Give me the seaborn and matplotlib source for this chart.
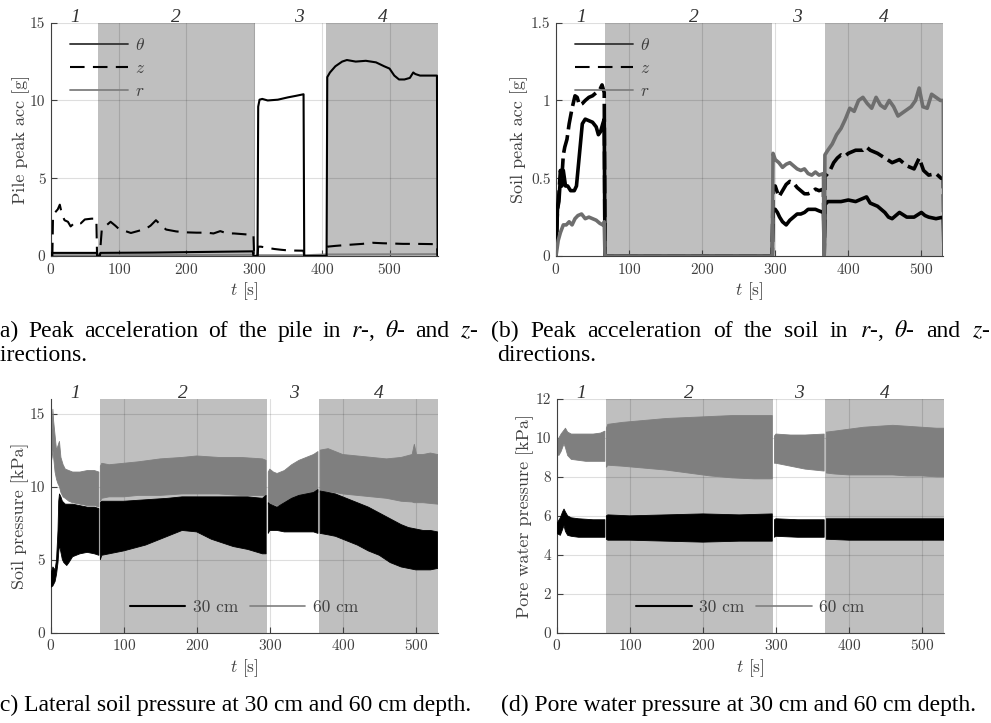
import numpy as np
import matplotlib
matplotlib.use('Agg')
import matplotlib.pyplot as plt
import seaborn as sns
from matplotlib.lines import Line2D
from matplotlib.ticker import FuncFormatter

nan = np.nan

# ---------------- (a) pile peak acceleration ----------------
ta_theta = [0, 1, 68, 69, 72, 73, 150, 298, 299, 305, 306, 308, 312, 320, 335, 350, 362, 373, 374,
            407, 408, 412, 420, 430, 437, 450, 465, 480, 492, 500, 507, 514, 522, 530, 535, 538, 545,
            560, 570, 571, 575]
va_theta = [0, 0.2, 0.2, 0, 0, 0.2, 0.22, 0.3, 0, 0, 9.6, 10.05, 10.1, 10.0, 10.05, 10.2, 10.3, 10.4, 0,
            0, 11.5, 11.8, 12.2, 12.5, 12.6, 12.5, 12.55, 12.45, 12.2, 12.05, 11.6, 11.35, 11.35, 11.45, 11.8, 11.7, 11.6,
            11.6, 11.6, 0, 0]
ta_z = [0, 2, 3, 6, 10, 13, 16, 20, 25, 29, 34, 38, 44, 50, 60, 67, 68, 72, 75, 80,
        88, 95, 100, 110, 118, 128, 140, 147, 155, 162, 170, 185, 200, 215, 230, 240, 250, 260, 270, 285,
        299, 300, 305, 306, 310, 320, 330, 340, 350, 360, 373, 374, 407, 408, 420, 440, 460, 475, 490, 505,
        520, 540, 570, 571, 575]
va_z = [0, 0, 2.6, 2.8, 3.0, 3.3, 2.7, 2.3, 2.2, 1.9, 2.1, 2.2, 2.1, 2.35, 2.4, 2.4, 0, 0, 1.7, 1.9,
        2.2, 1.95, 1.75, 1.6, 1.48, 1.6, 1.75, 1.95, 2.3, 2.0, 1.7, 1.58, 1.52, 1.5, 1.5, 1.45, 1.6, 1.45, 1.45, 1.4,
        1.35, 0, 0, 0.6, 0.6, 0.52, 0.45, 0.4, 0.36, 0.35, 0.34, 0, 0, 0.6, 0.65, 0.72, 0.78, 0.85, 0.82, 0.8,
        0.78, 0.78, 0.76, 0, 0]
ta_r = [0, 68, 69, 72, 300, 301, 305, 374, 407, 571, 575]
va_r = [0.05, 0.05, 0, 0.05, 0.08, 0, 0.05, 0.05, 0.1, 0.12, 0]

# ---------------- (b) soil peak acceleration ----------------
tb_z = [0, 2, 4, 6, 8, 10, 12, 15, 18, 22, 26, 29, 32, 36, 40, 45, 50, 55, 60, 63,
        66, 67, 296, 297, 300, 305, 310, 315, 320, 325, 330, 335, 340, 345, 350, 355, 360, 366, 367, 368,
        370, 375, 380, 385, 390, 395, 400, 410, 420, 425, 430, 440, 450, 460, 470, 480, 490, 497, 503, 510,
        520, 527, 530, 531]
vb_z = [0, 0.3, 0.4, 0.55, 0.5, 0.65, 0.7, 0.75, 0.85, 0.95, 1.03, 1.02, 0.97, 0.98, 1.0, 1.02, 1.03, 1.05, 1.07, 1.1,
        1.05, 0, 0, 0.45, 0.45, 0.38, 0.42, 0.46, 0.48, 0.47, 0.44, 0.42, 0.4, 0.4, 0.41, 0.43, 0.42, 0.43, 0, 0.52,
        0.52, 0.55, 0.6, 0.63, 0.65, 0.64, 0.66, 0.68, 0.68, 0.7, 0.68, 0.66, 0.63, 0.6, 0.62, 0.58, 0.56, 0.63, 0.55, 0.52,
        0.53, 0.5, 0.5, 0]
tb_theta = [0, 2, 4, 6, 8, 10, 13, 16, 20, 25, 28, 32, 36, 40, 45, 50, 55, 58, 61, 64,
            66, 67, 296, 297, 300, 303, 306, 310, 315, 320, 325, 330, 335, 340, 345, 350, 355, 360, 366, 367,
            368, 372, 380, 390, 400, 410, 420, 425, 430, 440, 450, 455, 460, 470, 480, 490, 500, 505, 510, 520,
            530, 531]
vb_theta = [0, 0.3, 0.35, 0.5, 0.45, 0.55, 0.45, 0.45, 0.42, 0.42, 0.45, 0.65, 0.85, 0.88, 0.87, 0.86, 0.83, 0.78, 0.8, 0.85,
            0.88, 0, 0, 0.3, 0.3, 0.28, 0.25, 0.22, 0.2, 0.23, 0.25, 0.27, 0.27, 0.28, 0.3, 0.3, 0.3, 0.29, 0.28, 0,
            0.33, 0.35, 0.35, 0.35, 0.36, 0.35, 0.37, 0.38, 0.34, 0.32, 0.28, 0.25, 0.24, 0.28, 0.25, 0.25, 0.28, 0.26, 0.25, 0.24,
            0.25, 0]
tb_r = [0, 3, 6, 10, 14, 18, 22, 26, 30, 35, 40, 45, 50, 55, 60, 64, 66, 67, 296, 297,
        300, 305, 310, 315, 320, 325, 330, 335, 340, 345, 350, 355, 360, 366, 367, 368, 372, 378, 384, 390,
        396, 402, 408, 414, 420, 426, 432, 438, 444, 450, 456, 462, 468, 474, 480, 486, 492, 497, 502, 508,
        514, 520, 526, 530, 531]
vb_r = [0, 0.1, 0.15, 0.2, 0.2, 0.22, 0.2, 0.24, 0.26, 0.27, 0.24, 0.25, 0.24, 0.23, 0.21, 0.2, 0.22, 0, 0, 0.66,
        0.62, 0.6, 0.57, 0.59, 0.6, 0.58, 0.56, 0.55, 0.56, 0.53, 0.52, 0.54, 0.52, 0.53, 0, 0.65, 0.68, 0.72, 0.78, 0.82,
        0.88, 0.95, 0.93, 1.0, 1.02, 0.98, 0.95, 1.02, 0.97, 0.95, 1.0, 0.96, 0.9, 0.92, 0.94, 0.96, 1.0, 1.08, 0.96, 0.95,
        1.04, 1.02, 1.0, 1.0, 0]

# ---------------- (c) lateral soil pressure (envelopes) ----------------
tc60 = [0, 2, 3, 4, 6, 8, 10, 12, 14, 17, 20, 25, 30, 40, 50, 60, 66, 67, 68, 70,
        80, 100, 120, 150, 180, 200, 230, 260, 290, 295, 296, 298, 300, 305, 310, 320, 330, 340, 350, 360,
        366, 367, 369, 380, 390, 400, 420, 440, 460, 480, 495, 498, 501, 510, 520, 530]
hi_c60 = [13.0, 14.0, 15.3, 14.5, 13.5, 12.5, 12.8, 13.1, 12.0, 11.5, 11.2, 11.1, 11.0, 11.0, 11.1, 11.1, 11.0, nan, 11.4, 11.6,
          11.5, 11.6, 11.7, 11.9, 12.0, 12.1, 12.0, 12.0, 11.9, 11.8, nan, 11.0, 11.2, 11.0, 10.9, 11.1, 11.5, 11.8, 12.0, 12.2,
          12.4, nan, 12.5, 12.6, 12.4, 12.2, 12.1, 12.0, 11.9, 12.0, 12.2, 12.9, 12.2, 12.2, 12.3, 12.2]
lo_c60 = [11.5, 12.0, 12.5, 12.0, 11.0, 10.5, 10.2, 10.0, 9.6, 9.3, 9.2, 9.0, 8.9, 8.8, 8.7, 8.7, 8.6, nan, 9.0, 9.2,
          9.3, 9.3, 9.4, 9.4, 9.5, 9.5, 9.5, 9.4, 9.4, 9.3, nan, 8.8, 8.8, 8.75, 8.7, 8.8, 8.9, 9.1, 9.3, 9.5,
          9.6, nan, 9.7, 9.65, 9.6, 9.5, 9.4, 9.3, 9.2, 9.0, 8.95, 8.9, 8.9, 8.9, 8.85, 8.8]
tc30 = [0, 3, 6, 8, 10, 11, 12, 14, 16, 18, 20, 22, 25, 30, 40, 50, 60, 66, 67, 68,
        70, 100, 130, 160, 180, 200, 220, 250, 270, 290, 295, 296, 298, 300, 310, 320, 330, 340, 350, 360,
        366, 367, 369, 380, 390, 400, 410, 420, 435, 450, 465, 480, 490, 500, 510, 520, 530]
hi_c30 = [4.0, 4.5, 4.3, 5.0, 7.0, 9.0, 9.5, 9.3, 9.0, 8.9, 8.8, 8.8, 8.8, 8.8, 8.7, 8.6, 8.6, 8.5, nan, 8.9,
          9.0, 9.0, 9.1, 9.2, 9.3, 9.3, 9.3, 9.3, 9.3, 9.2, 9.4, nan, 8.9, 8.8, 8.6, 8.9, 9.2, 9.4, 9.5, 9.6,
          9.8, nan, 9.7, 9.6, 9.5, 9.3, 9.1, 8.9, 8.6, 8.2, 7.8, 7.4, 7.2, 7.1, 7.0, 7.0, 6.9]
lo_c30 = [3.1, 3.2, 3.5, 4.0, 4.8, 5.5, 6.0, 5.5, 5.0, 4.8, 4.7, 4.6, 4.8, 5.2, 5.4, 5.5, 5.4, 5.3, nan, 5.0,
          5.3, 5.6, 6.0, 6.6, 7.0, 6.9, 6.4, 5.9, 5.7, 5.4, 5.4, nan, 6.8, 7.0, 7.0, 6.9, 6.9, 6.9, 6.9, 6.9,
          6.8, nan, 6.8, 6.7, 6.6, 6.4, 6.2, 6.0, 5.6, 5.3, 4.8, 4.5, 4.4, 4.3, 4.3, 4.3, 4.4]

# ---------------- (d) pore water pressure (envelopes) ----------------
td60 = [0, 3, 6, 8, 10, 12, 15, 20, 30, 40, 50, 60, 66, 67, 68, 70, 90, 120, 150, 180,
        210, 240, 270, 295, 296, 298, 300, 320, 340, 366, 367, 369, 380, 400, 420, 440, 460, 480, 500, 520, 530]
hi_d60 = [9.8, 10.0, 10.2, 10.3, 10.4, 10.5, 10.3, 10.2, 10.2, 10.2, 10.2, 10.25, 10.35, nan, 10.5, 10.7, 10.8, 10.9, 11.0, 11.05,
          11.1, 11.15, 11.15, 11.15, nan, 10.1, 10.2, 10.15, 10.15, 10.2, nan, 10.3, 10.35, 10.45, 10.55, 10.6, 10.65, 10.6, 10.55, 10.5, 10.5]
lo_d60 = [9.2, 9.1, 9.3, 9.5, 9.7, 9.5, 9.1, 8.9, 8.85, 8.8, 8.8, 8.8, 8.8, nan, 8.5, 8.6, 8.55, 8.45, 8.35, 8.2,
          8.05, 7.95, 7.9, 7.9, nan, 8.7, 8.7, 8.55, 8.4, 8.3, nan, 8.2, 8.15, 8.1, 8.1, 8.1, 8.1, 8.05, 8.05, 8.0, 8.0]
td30 = [0, 5, 8, 10, 12, 15, 20, 30, 50, 66, 67, 68, 70, 100, 150, 200, 250, 295, 296, 298,
        300, 330, 366, 367, 369, 400, 450, 500, 530]
hi_d30 = [5.6, 5.9, 6.2, 6.35, 6.2, 6.0, 5.9, 5.85, 5.8, 5.8, nan, 6.0, 6.05, 6.0, 6.05, 6.1, 6.05, 6.1, nan, 5.8,
          5.85, 5.8, 5.8, nan, 5.85, 5.85, 5.85, 5.85, 5.85]
lo_d30 = [5.1, 5.0, 5.3, 5.5, 5.2, 5.0, 4.95, 4.9, 4.9, 4.9, nan, 4.8, 4.75, 4.75, 4.7, 4.65, 4.7, 4.7, nan, 4.9,
          4.95, 4.9, 4.9, nan, 4.8, 4.75, 4.75, 4.75, 4.75]

# ---------------- test phases ----------------
phase_names = ['1', '2', '3', '4']
phases_a = [(0, 70), (70, 301), (301, 406), (406, 572)]
phases_bcd = [(0, 67.5), (67.5, 296), (296, 367.5), (367.5, 530)]
phase_lbl_a = [35, 185, 366, 490]
phase_lbl_b = [34, 188, 330, 448]
phase_lbl_c = [33, 181, 333, 449]
phase_lbl_d = [33, 181, 331, 449]

captions = {
    'a1': ['(a)', 'Peak', 'acceleration', 'of', 'the', 'pile', 'in', '$r$-,', r'$\theta$-', 'and', '$z$-'],
    'b1': ['(b)', 'Peak', 'acceleration', 'of', 'the', 'soil', 'in', '$r$-,', r'$\theta$-', 'and', '$z$-'],
    'a2': 'directions.',
    'b2': 'directions.',
    'c': '(c) Lateral soil pressure at 30 cm and 60 cm depth.',
    'd': '(d) Pore water pressure at 30 cm and 60 cm depth.',
}

# ---------------- style ----------------
sns.set_theme(style='white')
plt.rcParams.update({
    'font.family': ['cmr10', 'DejaVu Serif'],
    'mathtext.fontset': 'cm',
    'axes.formatter.use_mathtext': True,
    'axes.unicode_minus': False,
})

W, H = 991, 723
fig = plt.figure(figsize=(W / 100, H / 100), dpi=100)
fig.patch.set_facecolor('white')

SHADE = '#bfbfbf'
GRAY = '#7f7f7f'
AXC = '#404040'


def px_rect(x0, x1, ytop, ybot):
    return [x0 / W, 1 - ybot / H, (x1 - x0) / W, (ybot - ytop) / H]


ax_a = fig.add_axes(px_rect(51, 438.3, 22.7, 256))
ax_b = fig.add_axes(px_rect(556, 943.3, 22.7, 256))
ax_c = fig.add_axes(px_rect(50.7, 437.7, 399, 632.7))
ax_d = fig.add_axes(px_rect(556.7, 944, 399, 632.7))


def style_axis(ax, xmax, ymax, yticks, phases, lblpos, ylabel, ylab_x):
    ax.set_xlim(0, xmax)
    ax.set_ylim(0, ymax)
    ax.set_xticks([0, 100, 200, 300, 400, 500])
    ax.set_yticks(yticks)
    ax.yaxis.set_major_formatter(FuncFormatter(lambda v, p: '%g' % v))
    ax.set_facecolor('white')
    for i, (s, e) in enumerate(phases):
        if i % 2 == 1:
            ax.axvspan(s, e, color=SHADE, lw=0, zorder=0.1)
        ax.text(lblpos[i], 1.004, phase_names[i], transform=ax.get_xaxis_transform(),
                family=['Liberation Serif'], style='italic', fontsize=14, ha='center',
                va='baseline', color='#333333')
    ax.set_axisbelow(True)
    ax.grid(True, color='black', alpha=0.13, lw=0.8)
    for sp in ['top', 'right']:
        ax.spines[sp].set_visible(False)
    for sp in ['left', 'bottom']:
        ax.spines[sp].set_color(AXC)
        ax.spines[sp].set_linewidth(0.8)
    ax.tick_params(direction='in', length=4, width=0.8, color=AXC, labelcolor=AXC,
                   labelsize=11, left=True, bottom=True, pad=4)
    ax.set_xlabel('$t$ [s]', fontsize=12.5, color=AXC)
    ax.xaxis.set_label_coords(0.5, -0.105)
    ax.set_ylabel(ylabel, fontsize=13, color=AXC)
    ax.yaxis.set_label_coords(ylab_x, 0.5)


style_axis(ax_a, 572, 15, [0, 5, 10, 15], phases_a, phase_lbl_a, 'Pile peak acc [g]', -0.055)
style_axis(ax_b, 530, 1.5, [0, 0.5, 1, 1.5], phases_bcd, phase_lbl_b, 'Soil peak acc [g]', -0.072)
style_axis(ax_c, 530, 16, [0, 5, 10, 15], phases_bcd, phase_lbl_c, 'Soil pressure [kPa]', -0.056)
style_axis(ax_d, 530, 12, [0, 2, 4, 6, 8, 10, 12], phases_bcd, phase_lbl_d, 'Pore water pressure [kPa]', -0.058)

DASH = (0, (7, 4))
DASH_B = (0, (5, 1.6))
common = dict(estimator=None, sort=False, legend=False)
# (a)
sns.lineplot(x=ta_r, y=va_r, ax=ax_a, color=GRAY, lw=1.4, zorder=2, **common)
sns.lineplot(x=ta_z, y=va_z, ax=ax_a, color='black', lw=1.5, linestyle=DASH, zorder=3, **common)
sns.lineplot(x=ta_theta, y=va_theta, ax=ax_a, color='black', lw=1.5, zorder=4, **common)
# (b)
sns.lineplot(x=tb_theta, y=vb_theta, ax=ax_b, color='black', lw=2.6, zorder=3, **common)
sns.lineplot(x=tb_z, y=vb_z, ax=ax_b, color='black', lw=2.6, linestyle=DASH_B, zorder=3, **common)
sns.lineplot(x=tb_r, y=vb_r, ax=ax_b, color='#6e6e6e', lw=2.6, zorder=4, **common)

for ax in (ax_a, ax_b):
    handles = [Line2D([], [], color='#333333', lw=1.3),
               Line2D([], [], color='black', lw=1.5, linestyle=DASH),
               Line2D([], [], color=GRAY, lw=1.3)]
    ax.legend(handles, [r'$\theta$', '$z$', '$r$'], loc='upper left', bbox_to_anchor=(0.05, 0.94),
              frameon=False, fontsize=12.5, handlelength=3.3, labelspacing=0.45, handletextpad=0.4,
              borderpad=0, borderaxespad=0, labelcolor=AXC)

# (c) and (d) bands
for ax, (t60, lo60, hi60), (t30, lo30, hi30) in [
        (ax_c, (tc60, lo_c60, hi_c60), (tc30, lo_c30, hi_c30)),
        (ax_d, (td60, lo_d60, hi_d60), (td30, lo_d30, hi_d30))]:
    ax.fill_between(t60, lo60, hi60, color=GRAY, lw=0.6, edgecolor=GRAY, zorder=2)
    ax.fill_between(t30, lo30, hi30, color='black', lw=0.6, edgecolor='black', zorder=3)
    handles = [Line2D([], [], color='black', lw=1.5), Line2D([], [], color=GRAY, lw=1.2)]
    ax.legend(handles, ['30 cm', '60 cm'], loc='center', bbox_to_anchor=(0.5, 0.11), ncol=2,
              frameon=False, fontsize=12.5, handlelength=3.2, handletextpad=0.45, columnspacing=0.65,
              borderpad=0, labelcolor=AXC)

# ---------------- captions ----------------
CAP = dict(family=['Liberation Serif'], math_fontfamily='stix', fontsize=17, color='black', va='baseline')
renderer = fig.canvas.get_renderer()


def justify(words, x0, x1, ybase):
    texts = [fig.text(0, 1 - ybase / H, w, **CAP) for w in words]
    widths = [t.get_window_extent(renderer).width for t in texts]
    gap = (x1 - x0 - sum(widths)) / (len(words) - 1)
    x = x0
    for t, w in zip(texts, widths):
        t.set_x(x / W)
        x += w + gap


justify(captions['a1'], -8, 478, 337)
justify(captions['b1'], 491, 990, 337)
fig.text(-12 / W, 1 - 361 / H, captions['a2'], **CAP)
fig.text(497 / W, 1 - 361 / H, captions['b2'], **CAP)
fig.text(-8 / W, 1 - 711.5 / H, captions['c'], **CAP)
fig.text(501 / W, 1 - 711.5 / H, captions['d'], **CAP)

fig.savefig('out.png', dpi=100, facecolor='white')
